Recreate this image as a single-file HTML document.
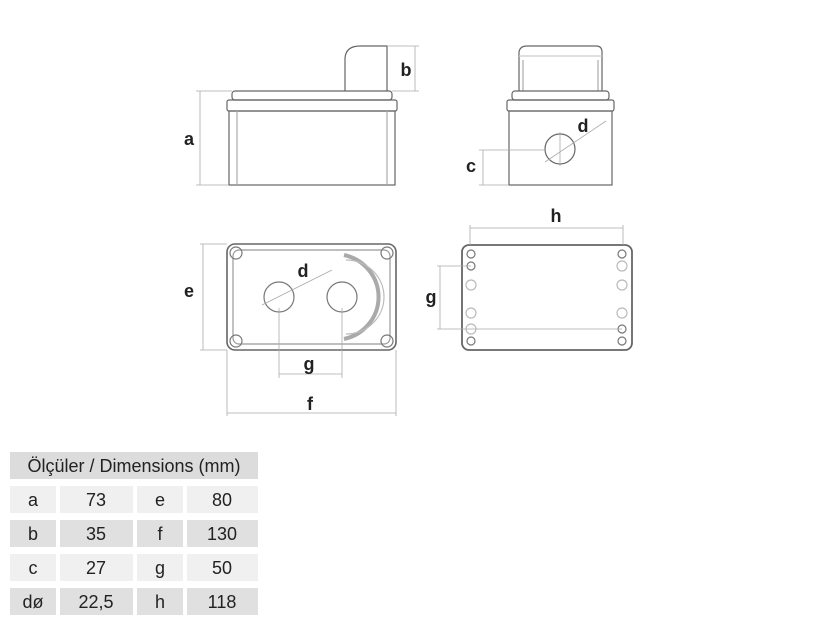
<!DOCTYPE html>
<html><head><style>
body{margin:0;width:825px;height:625px;background:#fff;overflow:hidden;font-family:"Liberation Sans",sans-serif}
svg{position:absolute;left:0;top:0}
</style></head><body>
<svg width="825" height="625" viewBox="0 0 825 625" fill="none" stroke="#666" stroke-width="1.2">
<!-- front view -->
<path d="M345 91 L345 58 Q346 46 360 46 L387 46 L387 91" />
<rect x="232" y="91" width="160" height="9" rx="3"/>
<rect x="227" y="100" width="170" height="11" rx="2"/>
<rect x="229" y="111" width="166" height="74"/>
<line x1="237" y1="111" x2="237" y2="185" stroke="#aaa"/><line x1="387" y1="111" x2="387" y2="185" stroke="#aaa"/>
<g stroke="#aaa" stroke-width="0.8">
<line x1="200" y1="91" x2="200" y2="185"/><line x1="196" y1="91" x2="232" y2="91"/><line x1="196" y1="185" x2="229" y2="185"/>
<line x1="415" y1="46" x2="415" y2="91"/><line x1="387" y1="46" x2="419" y2="46"/><line x1="392" y1="91" x2="419" y2="91"/>
</g>
<!-- side view -->
<path d="M519 91 L519 52 Q520 46 527 46 L596 46 Q602 46 602 52 L602 91"/>
<line x1="523" y1="60" x2="523" y2="91" stroke="#aaa"/><line x1="598" y1="60" x2="598" y2="91" stroke="#aaa"/>
<line x1="519" y1="56" x2="602" y2="56" stroke="#ccc"/>
<rect x="512" y="91" width="97" height="9" rx="3"/>
<rect x="507" y="100" width="107" height="11" rx="2"/>
<rect x="509" y="111" width="103" height="74"/>
<circle cx="560" cy="149" r="15"/>
<g stroke="#aaa" stroke-width="0.8">
<line x1="545" y1="162" x2="606" y2="121"/><line x1="560" y1="132" x2="560" y2="166"/>
<line x1="483" y1="150" x2="483" y2="185"/><line x1="479" y1="150" x2="545" y2="150"/><line x1="479" y1="185" x2="509" y2="185"/>
</g>
<!-- top view -->
<rect x="227" y="244" width="169" height="106" rx="8" stroke-width="1.6"/>
<rect x="233" y="250" width="157" height="94" rx="6" stroke="#999"/>
<g stroke="#777"><circle cx="236" cy="253" r="6"/><circle cx="387" cy="253" r="6"/><circle cx="236" cy="341" r="6"/><circle cx="387" cy="341" r="6"/>
<circle cx="279" cy="297" r="15"/><circle cx="342" cy="297" r="15"/></g>
<path d="M344 255 A44 43 0 0 1 344 339" stroke="#aaa" stroke-width="4"/>
<path d="M346 260 A38 37 0 0 1 346 334" stroke="#bbb"/>
<g stroke="#aaa" stroke-width="0.8">
<line x1="262" y1="305" x2="332" y2="270"/>
<line x1="279" y1="308" x2="279" y2="378"/><line x1="342" y1="308" x2="342" y2="378"/><line x1="279" y1="374" x2="342" y2="374"/>
<line x1="203" y1="244" x2="203" y2="350"/><line x1="200" y1="244" x2="227" y2="244"/><line x1="200" y1="350" x2="227" y2="350"/>
<line x1="227" y1="350" x2="227" y2="416"/><line x1="396" y1="350" x2="396" y2="416"/><line x1="227" y1="413" x2="396" y2="413"/>
</g>
<!-- back view -->
<rect x="462" y="245" width="170" height="105" rx="7" stroke-width="1.8"/>
<g stroke="#777"><circle cx="471" cy="254" r="4"/><circle cx="622" cy="254" r="4"/><circle cx="471" cy="341" r="4"/><circle cx="622" cy="341" r="4"/>
<circle cx="471" cy="266" r="4"/><circle cx="622" cy="329" r="4"/></g>
<g stroke="#bbb"><circle cx="471" cy="285" r="5"/><circle cx="471" cy="313" r="5"/><circle cx="471" cy="329" r="5"/><circle cx="622" cy="266" r="5"/><circle cx="622" cy="285" r="5"/><circle cx="622" cy="313" r="5"/></g>
<g stroke="#aaa" stroke-width="0.8">
<line x1="470" y1="228" x2="623" y2="228"/><line x1="470" y1="225" x2="470" y2="245"/><line x1="623" y1="225" x2="623" y2="245"/>
<line x1="440" y1="266" x2="440" y2="329"/><line x1="437" y1="266" x2="471" y2="266"/><line x1="437" y1="329" x2="622" y2="329"/>
</g>
<!-- table -->
<g stroke="none">
<rect x="10" y="452" width="248" height="27" fill="#dcdcdc"/>
<rect x="10" y="486" width="46" height="27" fill="#f0f0f0"/><rect x="60" y="486" width="73" height="27" fill="#f0f0f0"/><rect x="137" y="486" width="46" height="27" fill="#f0f0f0"/><rect x="187" y="486" width="71" height="27" fill="#f0f0f0"/>
<rect x="10" y="520" width="46" height="27" fill="#e0e0e0"/><rect x="60" y="520" width="73" height="27" fill="#e0e0e0"/><rect x="137" y="520" width="46" height="27" fill="#e0e0e0"/><rect x="187" y="520" width="71" height="27" fill="#e0e0e0"/>
<rect x="10" y="554" width="46" height="27" fill="#f0f0f0"/><rect x="60" y="554" width="73" height="27" fill="#f0f0f0"/><rect x="137" y="554" width="46" height="27" fill="#f0f0f0"/><rect x="187" y="554" width="71" height="27" fill="#f0f0f0"/>
<rect x="10" y="588" width="46" height="27" fill="#e0e0e0"/><rect x="60" y="588" width="73" height="27" fill="#e0e0e0"/><rect x="137" y="588" width="46" height="27" fill="#e0e0e0"/><rect x="187" y="588" width="71" height="27" fill="#e0e0e0"/>
</g>
<g fill="#222" stroke="none" font-family="Liberation Sans, sans-serif" font-size="18" font-weight="bold" text-anchor="middle">
<text x="189" y="145">a</text><text x="406" y="76">b</text><text x="471" y="172">c</text><text x="583" y="132">d</text>
<text x="189" y="297">e</text><text x="303" y="277">d</text><text x="309" y="370">g</text><text x="310" y="410">f</text>
<text x="556" y="222">h</text><text x="431" y="303">g</text>
</g>
<g fill="#222" stroke="none" font-family="Liberation Sans, sans-serif" font-size="18" text-anchor="middle">
<text x="134" y="472">Ölçüler / Dimensions (mm)</text>
<text x="33" y="506">a</text><text x="96" y="506">73</text><text x="160" y="506">e</text><text x="222" y="506">80</text>
<text x="33" y="540">b</text><text x="96" y="540">35</text><text x="160" y="540">f</text><text x="222" y="540">130</text>
<text x="33" y="574">c</text><text x="96" y="574">27</text><text x="160" y="574">g</text><text x="222" y="574">50</text>
<text x="33" y="608">dø</text><text x="96" y="608">22,5</text><text x="160" y="608">h</text><text x="222" y="608">118</text>
</g>
</svg>
</body></html>
